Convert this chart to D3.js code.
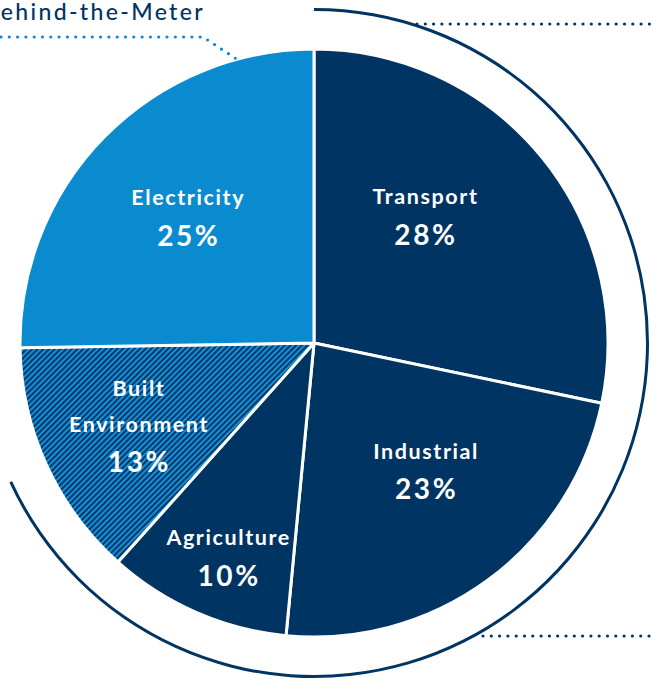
<!DOCTYPE html>
<html><head><meta charset="utf-8">
<script src="https://cdn.jsdelivr.net/npm/d3@7"></script>
<style>html,body{margin:0;padding:0;background:#fff;overflow:hidden}</style>
</head><body>
<svg id="c" width="652" height="679"></svg>
<script>
const categories = ["Transport", "Industrial", "Agriculture", "Built Environment", "Electricity"];
const values = [28, 23, 10, 13, 25];
const labels = ["28%", "23%", "10%", "13%", "25%"];
const groupLabel = "Behind-the-Meter";

const NAVY = "#003463", BLUE = "#0a8bd0";
const fills = {"Transport": NAVY, "Industrial": NAVY, "Agriculture": NAVY, "Built Environment": "url(#hatch)", "Electricity": BLUE};
// label placement (angle in degrees clockwise from 12 o'clock, radius in px)
const labelPos = {"Transport": [40.9, 169], "Industrial": [138.8, 169], "Agriculture": [202, 230], "Built Environment": [245, 194], "Electricity": [315, 179]};

const svg = d3.select("#c");
const defs = svg.append("defs");
const pat = defs.append("pattern").attr("id", "hatch").attr("patternUnits", "userSpaceOnUse")
  .attr("width", 4).attr("height", 4).attr("patternTransform", "rotate(45)");
pat.append("rect").attr("width", 4).attr("height", 4).attr("fill", "#1390d6");
pat.append("rect").attr("width", 2).attr("height", 4).attr("fill", "#06386a");

const cx = 314, cy = 343, R = 294;
const g = svg.append("g").attr("transform", `translate(${cx},${cy})`);
const data = categories.map((c, i) => ({cat: c, value: values[i], label: labels[i]}));
const pie = d3.pie().value(d => d.value).sort(null);
const arcs = pie(data);
const arc = d3.arc().innerRadius(0).outerRadius(R);

g.selectAll("path.slice").data(arcs).join("path").attr("class", "slice")
  .attr("d", arc).attr("fill", d => fills[d.data.cat])
  .attr("stroke", "#fff").attr("stroke-width", 3).attr("stroke-linejoin", "round");

// outer bracket arc
g.append("path").attr("d", d3.arc()({innerRadius: 332, outerRadius: 335, startAngle: 0, endAngle: 245.4 * Math.PI / 180}))
  .attr("fill", NAVY);

// labels
const font = "Lato, 'DejaVu Sans', sans-serif";
arcs.forEach(d => {
  const [ang, r] = labelPos[d.data.cat];
  const a = ang * Math.PI / 180;
  const x = r * Math.sin(a), y = -r * Math.cos(a);
  const words = d.data.cat === "Built Environment" ? ["Built", "Environment"] : [d.data.cat];
  const lines = words.map(w => ({t: w, size: 21.5, ls: 1.6})).concat([{t: d.data.label, size: 28, ls: 2.6}]);
  const total = (lines.length - 1) * 37;
  let yy = y - total / 2;
  lines.forEach((ln, i) => {
    g.append("text").attr("x", x + ln.ls / 2).attr("y", yy).attr("dy", "0.35em")
      .attr("text-anchor", "middle").attr("fill", "#fff")
      .attr("font-family", font).attr("font-weight", 700).attr("font-size", ln.size)
      .attr("letter-spacing", ln.ls)
      .text(ln.t);
    yy += (i === lines.length - 2) ? 38 : 36;
  });
});

// dotted leader lines
const dotted = (pts, color) => svg.append("path").attr("d", d3.line()(pts))
  .attr("fill", "none").attr("stroke", color).attr("stroke-width", 3.2)
  .attr("stroke-linecap", "round").attr("stroke-dasharray", "0 8.3");
dotted([[1, 37], [203, 37], [238, 60]], BLUE);
dotted([[417, 24], [652, 24]], NAVY);
dotted([[483, 636], [652, 636]], NAVY);

svg.append("text").attr("x", 205).attr("y", 20).attr("text-anchor", "end")
  .attr("fill", NAVY).attr("font-family", font).attr("font-size", 23)
  .attr("font-weight", 500).attr("letter-spacing", 2.35)
  .text(groupLabel);
</script>
</body></html>
